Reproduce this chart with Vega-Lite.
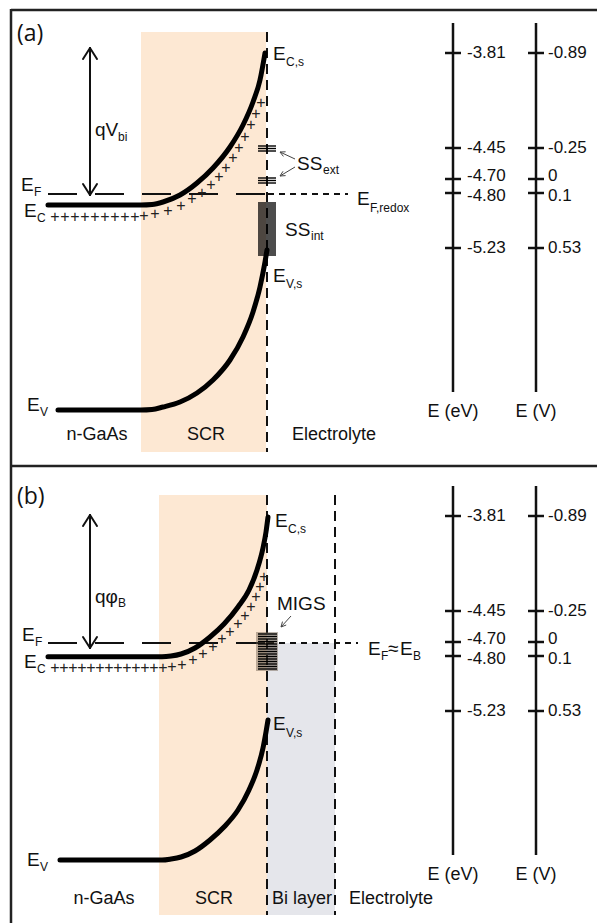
{
  "$schema": "https://vega.github.io/schema/vega-lite/v6.json",
  "width": 597,
  "height": 923,
  "padding": 0,
  "autosize": {"type": "none"},
  "background": "white",
  "config": {"view": {"stroke": null}, "font": "Liberation Sans"},
  "datasets": {
    "frame": [
      {"x": 11, "y": 10, "x2": 597, "y2": 10},
      {"x": 11, "y": 9, "x2": 11, "y2": 923},
      {"x": 11, "y": 466, "x2": 597, "y2": 466}
    ],
    "regions": [
      {"x": 141, "x2": 266, "y": 32, "y2": 452, "kind": "SCR"},
      {"x": 159, "x2": 267, "y": 495, "y2": 915, "kind": "SCR"},
      {"x": 267, "x2": 335, "y": 643, "y2": 915, "kind": "Bi"}
    ],
    "dashed": [
      {"x": 48, "y": 194, "x2": 266, "y2": 194, "dash": "long"},
      {"x": 268, "y": 194, "x2": 348, "y2": 194, "dash": "short"},
      {"x": 267, "y": 32, "x2": 267, "y2": 452, "dash": "vert"},
      {"x": 48, "y": 643, "x2": 266, "y2": 643, "dash": "long"},
      {"x": 268, "y": 643, "x2": 358, "y2": 643, "dash": "short"},
      {"x": 267, "y": 495, "x2": 267, "y2": 915, "dash": "vert"},
      {"x": 335, "y": 495, "x2": 335, "y2": 915, "dash": "vert"}
    ],
    "bands": [
      {"id": "Ca", "x": 48, "y": 205}, {"id": "Ca", "x": 141, "y": 205}, {"id": "Ca", "x": 152, "y": 204.5},
      {"id": "Ca", "x": 163, "y": 202}, {"id": "Ca", "x": 180, "y": 195}, {"id": "Ca", "x": 197, "y": 183},
      {"id": "Ca", "x": 213, "y": 168}, {"id": "Ca", "x": 230, "y": 147}, {"id": "Ca", "x": 243, "y": 125},
      {"id": "Ca", "x": 253, "y": 102}, {"id": "Ca", "x": 260, "y": 80}, {"id": "Ca", "x": 265, "y": 53},
      {"id": "Va", "x": 58, "y": 410}, {"id": "Va", "x": 141, "y": 410}, {"id": "Va", "x": 152, "y": 409.5},
      {"id": "Va", "x": 163, "y": 407}, {"id": "Va", "x": 180, "y": 402}, {"id": "Va", "x": 197, "y": 393},
      {"id": "Va", "x": 213, "y": 380}, {"id": "Va", "x": 230, "y": 360}, {"id": "Va", "x": 243, "y": 337},
      {"id": "Va", "x": 253, "y": 312}, {"id": "Va", "x": 260, "y": 287}, {"id": "Va", "x": 265, "y": 262},
      {"id": "Va", "x": 267, "y": 250},
      {"id": "Cb", "x": 48, "y": 656.7}, {"id": "Cb", "x": 162, "y": 656.7}, {"id": "Cb", "x": 171, "y": 656},
      {"id": "Cb", "x": 181, "y": 654}, {"id": "Cb", "x": 195, "y": 648}, {"id": "Cb", "x": 210, "y": 637},
      {"id": "Cb", "x": 224, "y": 624}, {"id": "Cb", "x": 238, "y": 607}, {"id": "Cb", "x": 249, "y": 590},
      {"id": "Cb", "x": 257, "y": 570}, {"id": "Cb", "x": 263, "y": 548}, {"id": "Cb", "x": 266, "y": 532},
      {"id": "Cb", "x": 268, "y": 517},
      {"id": "Vb", "x": 60, "y": 860}, {"id": "Vb", "x": 162, "y": 860}, {"id": "Vb", "x": 171, "y": 859},
      {"id": "Vb", "x": 181, "y": 857}, {"id": "Vb", "x": 195, "y": 851}, {"id": "Vb", "x": 210, "y": 840},
      {"id": "Vb", "x": 224, "y": 827}, {"id": "Vb", "x": 238, "y": 810}, {"id": "Vb", "x": 249, "y": 790},
      {"id": "Vb", "x": 257, "y": 770}, {"id": "Vb", "x": 263, "y": 748}, {"id": "Vb", "x": 266, "y": 732},
      {"id": "Vb", "x": 268, "y": 720}
    ],
    "plus": [
      {"x": 55, "y": 217}, {"x": 65, "y": 217}, {"x": 75, "y": 217}, {"x": 85, "y": 217}, {"x": 95, "y": 217},
      {"x": 105, "y": 217}, {"x": 115, "y": 217}, {"x": 125, "y": 217}, {"x": 135, "y": 217}, {"x": 144, "y": 216},
      {"x": 155, "y": 214}, {"x": 168, "y": 211}, {"x": 181, "y": 206}, {"x": 192, "y": 199}, {"x": 202, "y": 193},
      {"x": 211, "y": 185}, {"x": 219, "y": 177}, {"x": 226, "y": 168}, {"x": 233, "y": 158}, {"x": 239, "y": 148},
      {"x": 245, "y": 137}, {"x": 251, "y": 125}, {"x": 256, "y": 114}, {"x": 261, "y": 103},
      {"x": 55, "y": 668}, {"x": 64, "y": 668}, {"x": 73, "y": 668}, {"x": 82, "y": 668}, {"x": 91, "y": 668},
      {"x": 100, "y": 668}, {"x": 109, "y": 668}, {"x": 118, "y": 668}, {"x": 127, "y": 668}, {"x": 136, "y": 668},
      {"x": 145, "y": 668}, {"x": 154, "y": 668}, {"x": 163, "y": 668}, {"x": 172, "y": 667}, {"x": 182, "y": 665},
      {"x": 193, "y": 660}, {"x": 203, "y": 654}, {"x": 213, "y": 647}, {"x": 222, "y": 639}, {"x": 230, "y": 632},
      {"x": 238, "y": 624}, {"x": 245, "y": 616}, {"x": 251, "y": 607}, {"x": 256, "y": 597}, {"x": 260, "y": 587},
      {"x": 264, "y": 577}
    ],
    "segments": [
      {"x": 90, "y": 48, "x2": 90, "y2": 195}, {"x": 83, "y": 59, "x2": 90, "y2": 48}, {"x": 97, "y": 59, "x2": 90, "y2": 48},
      {"x": 83, "y": 184, "x2": 90, "y2": 195}, {"x": 97, "y": 184, "x2": 90, "y2": 195},
      {"x": 90, "y": 515, "x2": 90, "y2": 648}, {"x": 83, "y": 526, "x2": 90, "y2": 515}, {"x": 97, "y": 526, "x2": 90, "y2": 515},
      {"x": 83, "y": 637, "x2": 90, "y2": 648}, {"x": 97, "y": 637, "x2": 90, "y2": 648}
    ],
    "scales": [
      {"x": 453, "y": 23, "x2": 453, "y2": 392}, {"x": 536, "y": 23, "x2": 536, "y2": 392},
      {"x": 445, "y": 53, "x2": 461, "y2": 53}, {"x": 445, "y": 148, "x2": 461, "y2": 148},
      {"x": 445, "y": 179, "x2": 461, "y2": 179}, {"x": 445, "y": 193, "x2": 461, "y2": 193},
      {"x": 445, "y": 248, "x2": 461, "y2": 248},
      {"x": 528, "y": 53, "x2": 544, "y2": 53}, {"x": 528, "y": 148, "x2": 544, "y2": 148},
      {"x": 528, "y": 179, "x2": 544, "y2": 179}, {"x": 528, "y": 193, "x2": 544, "y2": 193},
      {"x": 528, "y": 248, "x2": 544, "y2": 248},
      {"x": 453, "y": 486, "x2": 453, "y2": 855}, {"x": 536, "y": 486, "x2": 536, "y2": 855},
      {"x": 445, "y": 516, "x2": 461, "y2": 516}, {"x": 445, "y": 611, "x2": 461, "y2": 611},
      {"x": 445, "y": 642, "x2": 461, "y2": 642}, {"x": 445, "y": 656, "x2": 461, "y2": 656},
      {"x": 445, "y": 711, "x2": 461, "y2": 711},
      {"x": 528, "y": 516, "x2": 544, "y2": 516}, {"x": 528, "y": 611, "x2": 544, "y2": 611},
      {"x": 528, "y": 642, "x2": 544, "y2": 642}, {"x": 528, "y": 656, "x2": 544, "y2": 656},
      {"x": 528, "y": 711, "x2": 544, "y2": 711}
    ],
    "bars": [
      {"x": 258, "y": 146, "x2": 276, "y2": 146}, {"x": 258, "y": 148.5, "x2": 276, "y2": 148.5}, {"x": 258, "y": 151, "x2": 276, "y2": 151},
      {"x": 258, "y": 178, "x2": 276, "y2": 178}, {"x": 258, "y": 180.5, "x2": 276, "y2": 180.5}, {"x": 258, "y": 183, "x2": 276, "y2": 183},
      {"x": 258, "y": 203, "x2": 276, "y2": 203}, {"x": 258, "y": 205, "x2": 276, "y2": 205}, {"x": 258, "y": 207, "x2": 276, "y2": 207},
      {"x": 258, "y": 209, "x2": 276, "y2": 209}, {"x": 258, "y": 211, "x2": 276, "y2": 211}, {"x": 258, "y": 213, "x2": 276, "y2": 213},
      {"x": 258, "y": 215, "x2": 276, "y2": 215}, {"x": 258, "y": 217, "x2": 276, "y2": 217}, {"x": 258, "y": 219, "x2": 276, "y2": 219},
      {"x": 258, "y": 221, "x2": 276, "y2": 221}, {"x": 258, "y": 223, "x2": 276, "y2": 223}, {"x": 258, "y": 225, "x2": 276, "y2": 225},
      {"x": 258, "y": 227, "x2": 276, "y2": 227}, {"x": 258, "y": 229, "x2": 276, "y2": 229}, {"x": 258, "y": 231, "x2": 276, "y2": 231},
      {"x": 258, "y": 233, "x2": 276, "y2": 233}, {"x": 258, "y": 235, "x2": 276, "y2": 235}, {"x": 258, "y": 237, "x2": 276, "y2": 237},
      {"x": 258, "y": 239, "x2": 276, "y2": 239}, {"x": 258, "y": 241, "x2": 276, "y2": 241}, {"x": 258, "y": 243, "x2": 276, "y2": 243},
      {"x": 258, "y": 245, "x2": 276, "y2": 245}, {"x": 258, "y": 247, "x2": 276, "y2": 247}, {"x": 258, "y": 249, "x2": 276, "y2": 249},
      {"x": 258, "y": 251, "x2": 276, "y2": 251}, {"x": 258, "y": 253, "x2": 276, "y2": 253}, {"x": 258, "y": 255, "x2": 276, "y2": 255},
      {"x": 258, "y": 634, "x2": 277, "y2": 634}, {"x": 258, "y": 636.5, "x2": 277, "y2": 636.5}, {"x": 258, "y": 639, "x2": 277, "y2": 639},
      {"x": 258, "y": 641.5, "x2": 277, "y2": 641.5}, {"x": 258, "y": 644, "x2": 277, "y2": 644}, {"x": 258, "y": 646.5, "x2": 277, "y2": 646.5},
      {"x": 258, "y": 649, "x2": 277, "y2": 649}, {"x": 258, "y": 651.5, "x2": 277, "y2": 651.5}, {"x": 258, "y": 654, "x2": 277, "y2": 654},
      {"x": 258, "y": 656.5, "x2": 277, "y2": 656.5}, {"x": 258, "y": 659, "x2": 277, "y2": 659}, {"x": 258, "y": 661.5, "x2": 277, "y2": 661.5},
      {"x": 258, "y": 664, "x2": 277, "y2": 664}, {"x": 258, "y": 666.5, "x2": 277, "y2": 666.5}, {"x": 258, "y": 669, "x2": 277, "y2": 669}
    ],
    "migs": [
      {"x": 256, "x2": 278, "y": 632, "y2": 671}
    ],
    "thin": [
      {"x": 295, "y": 159, "x2": 280, "y2": 152}, {"x": 285.6, "y": 151.8, "x2": 280, "y2": 152}, {"x": 283.4, "y": 156.4, "x2": 280, "y2": 152},
      {"x": 295, "y": 167, "x2": 280, "y2": 176}, {"x": 285.6, "y": 175.6, "x2": 280, "y2": 176}, {"x": 283, "y": 171.3, "x2": 280, "y2": 176},
      {"x": 291, "y": 616, "x2": 281, "y2": 627}, {"x": 286.2, "y": 625, "x2": 281, "y2": 627}, {"x": 282.5, "y": 621.6, "x2": 281, "y2": 627}
    ],
    "panel": [
      {"x": 17, "y": 41, "t": "(a)"},
      {"x": 17, "y": 504, "t": "(b)"}
    ],
    "lab": [
      {"x": 21, "y": 191, "t": "E"}, {"x": 24, "y": 217, "t": "E"}, {"x": 27, "y": 411, "t": "E"},
      {"x": 273, "y": 60, "t": "E"}, {"x": 273, "y": 282, "t": "E"}, {"x": 297, "y": 170, "t": "SS"},
      {"x": 285, "y": 236, "t": "SS"}, {"x": 357, "y": 205, "t": "E"}, {"x": 95, "y": 136, "t": "qV"},
      {"x": 22, "y": 641, "t": "E"}, {"x": 24, "y": 668, "t": "E"}, {"x": 27, "y": 866, "t": "E"},
      {"x": 275, "y": 527, "t": "E"}, {"x": 273, "y": 730, "t": "E"}, {"x": 277, "y": 610, "t": "MIGS"},
      {"x": 95, "y": 603, "t": "qφ"}, {"x": 368, "y": 655, "t": "E"}, {"x": 388, "y": 655, "t": "≈"},
      {"x": 400, "y": 655, "t": "E"}
    ],
    "sub": [
      {"x": 34, "y": 196, "t": "F"}, {"x": 37, "y": 222, "t": "C"}, {"x": 40, "y": 416, "t": "V"},
      {"x": 286, "y": 66, "t": "C,s"}, {"x": 286, "y": 288, "t": "V,s"}, {"x": 323, "y": 174, "t": "ext"},
      {"x": 311, "y": 240, "t": "int"}, {"x": 370, "y": 212, "t": "F,redox"}, {"x": 118, "y": 141, "t": "bi"},
      {"x": 35, "y": 646, "t": "F"}, {"x": 37, "y": 673, "t": "C"}, {"x": 40, "y": 871, "t": "V"},
      {"x": 288, "y": 533, "t": "C,s"}, {"x": 286, "y": 737, "t": "V,s"}, {"x": 118, "y": 607, "t": "B"},
      {"x": 381, "y": 660, "t": "F"}, {"x": 413, "y": 660, "t": "B"}
    ],
    "center": [
      {"x": 97, "y": 440, "t": "n-GaAs"}, {"x": 206, "y": 440, "t": "SCR"}, {"x": 334, "y": 440, "t": "Electrolyte"},
      {"x": 453, "y": 417, "t": "E (eV)"}, {"x": 536, "y": 417, "t": "E (V)"},
      {"x": 104, "y": 904, "t": "n-GaAs"}, {"x": 214, "y": 904, "t": "SCR"}, {"x": 302, "y": 904, "t": "Bi layer"},
      {"x": 391, "y": 904, "t": "Electrolyte"}, {"x": 453, "y": 880, "t": "E (eV)"}, {"x": 536, "y": 880, "t": "E (V)"}
    ],
    "ticklab": [
      {"x": 467, "y": 53, "t": "-3.81"}, {"x": 467, "y": 148, "t": "-4.45"}, {"x": 467, "y": 176, "t": "-4.70"},
      {"x": 467, "y": 196, "t": "-4.80"}, {"x": 467, "y": 248, "t": "-5.23"},
      {"x": 548, "y": 53, "t": "-0.89"}, {"x": 548, "y": 148, "t": "-0.25"}, {"x": 548, "y": 176, "t": "0"},
      {"x": 548, "y": 196, "t": "0.1"}, {"x": 548, "y": 248, "t": "0.53"},
      {"x": 467, "y": 516, "t": "-3.81"}, {"x": 467, "y": 611, "t": "-4.45"}, {"x": 467, "y": 639, "t": "-4.70"},
      {"x": 467, "y": 659, "t": "-4.80"}, {"x": 467, "y": 711, "t": "-5.23"},
      {"x": 548, "y": 516, "t": "-0.89"}, {"x": 548, "y": 611, "t": "-0.25"}, {"x": 548, "y": 639, "t": "0"},
      {"x": 548, "y": 659, "t": "0.1"}, {"x": 548, "y": 711, "t": "0.53"}
    ]
  },
  "encoding": {
    "x": {"field": "x", "type": "quantitative", "scale": {"domain": [0, 597], "nice": false, "zero": false}, "axis": null},
    "y": {"field": "y", "type": "quantitative", "scale": {"domain": [0, 923], "nice": false, "zero": false, "reverse": true}, "axis": null}
  },
  "layer": [
    {
      "data": {"name": "regions"},
      "mark": {"type": "rect"},
      "encoding": {
        "x2": {"field": "x2"}, "y2": {"field": "y2"},
        "color": {"field": "kind", "type": "nominal", "scale": {"domain": ["SCR", "Bi"], "range": ["#fde8d3", "#e5e6eb"]}, "legend": null}
      }
    },
    {
      "data": {"name": "frame"},
      "mark": {"type": "rule", "strokeWidth": 2.5, "color": "#222222"},
      "encoding": {"x2": {"field": "x2"}, "y2": {"field": "y2"}}
    },
    {
      "data": {"name": "dashed"},
      "mark": {"type": "rule", "strokeWidth": 2, "color": "#111111"},
      "encoding": {
        "x2": {"field": "x2"}, "y2": {"field": "y2"},
        "strokeDash": {"field": "dash", "type": "nominal", "scale": {"domain": ["long", "short", "vert"], "range": [[29, 18], [6, 5], [10, 6]]}, "legend": null}
      }
    },
    {
      "data": {"name": "migs"},
      "mark": {"type": "rect", "color": "#6b5a4a", "opacity": 0.45},
      "encoding": {"x2": {"field": "x2"}, "y2": {"field": "y2"}}
    },
    {
      "data": {"name": "bars"},
      "mark": {"type": "rule", "strokeWidth": 1.4, "color": "#000000"},
      "encoding": {"x2": {"field": "x2"}, "y2": {"field": "y2"}}
    },
    {
      "data": {"name": "bands"},
      "mark": {"type": "line", "interpolate": "monotone", "strokeWidth": 5, "color": "#000000", "strokeCap": "round"},
      "encoding": {"detail": {"field": "id"}}
    },
    {
      "data": {"name": "plus"},
      "mark": {"type": "text", "text": "+", "font": "Liberation Sans", "fontSize": 16, "align": "center", "baseline": "middle", "color": "#222222"}
    },
    {
      "data": {"name": "segments"},
      "mark": {"type": "rule", "strokeWidth": 2, "color": "#111111", "strokeCap": "round"},
      "encoding": {"x2": {"field": "x2"}, "y2": {"field": "y2"}}
    },
    {
      "data": {"name": "thin"},
      "mark": {"type": "rule", "strokeWidth": 1, "color": "#444444"},
      "encoding": {"x2": {"field": "x2"}, "y2": {"field": "y2"}}
    },
    {
      "data": {"name": "scales"},
      "mark": {"type": "rule", "strokeWidth": 2.5, "color": "#111111"},
      "encoding": {"x2": {"field": "x2"}, "y2": {"field": "y2"}}
    },
    {
      "data": {"name": "panel"},
      "mark": {"type": "text", "font": "Open Sans", "fontSize": 23, "align": "left", "baseline": "alphabetic", "color": "#111111"},
      "encoding": {"text": {"field": "t"}}
    },
    {
      "data": {"name": "lab"},
      "mark": {"type": "text", "font": "Liberation Sans", "fontSize": 19, "align": "left", "baseline": "alphabetic", "color": "#111111"},
      "encoding": {"text": {"field": "t"}}
    },
    {
      "data": {"name": "sub"},
      "mark": {"type": "text", "font": "Liberation Sans", "fontSize": 12, "align": "left", "baseline": "alphabetic", "color": "#111111"},
      "encoding": {"text": {"field": "t"}}
    },
    {
      "data": {"name": "center"},
      "mark": {"type": "text", "font": "Liberation Sans", "fontSize": 18, "align": "center", "baseline": "alphabetic", "color": "#111111"},
      "encoding": {"text": {"field": "t"}}
    },
    {
      "data": {"name": "ticklab"},
      "mark": {"type": "text", "font": "Liberation Sans", "fontSize": 17, "align": "left", "baseline": "middle", "color": "#111111"},
      "encoding": {"text": {"field": "t"}}
    }
  ]
}
